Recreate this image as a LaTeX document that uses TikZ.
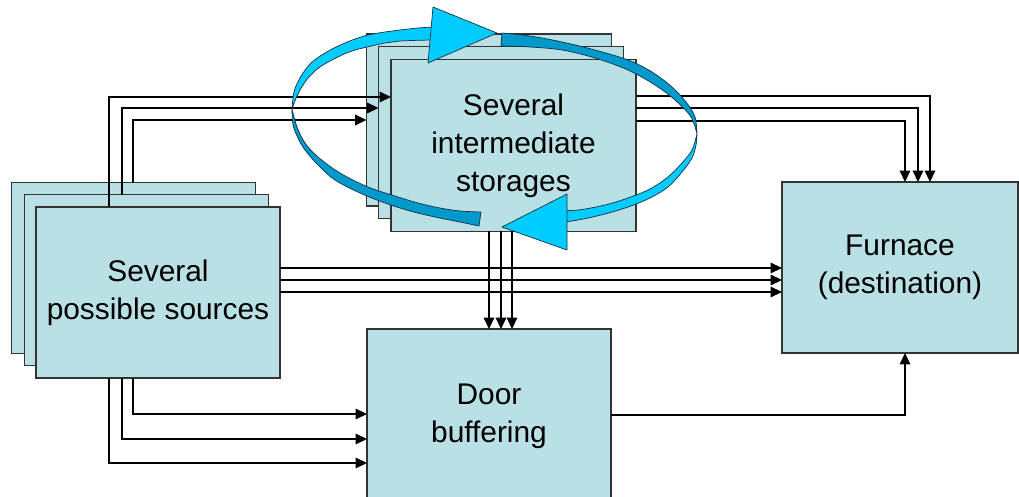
\documentclass[tikz,border=0pt]{standalone}
\usepackage{fontspec}
\setmainfont{Liberation Sans}
\usetikzlibrary{arrows.meta,calc}
\definecolor{boxfill}{RGB}{185,224,228}
\definecolor{boxline}{RGB}{51,51,51}
\definecolor{ribbonlight}{RGB}{0,204,255}
\definecolor{ribbondark}{RGB}{0,153,204}
\definecolor{ribbonedge}{RGB}{20,50,70}
\begin{document}
\begin{tikzpicture}[x=0.02cm,y=0.02cm,
  block/.style={draw=boxline, fill=boxfill, line width=0.7pt, inner sep=0pt, outer sep=0pt,
    align=center, font=\fontsize{17}{21.6}\selectfont},
  srcbox/.style={block, minimum width=4.88cm, minimum height=3.42cm},
  stobox/.style={block, minimum width=4.9cm, minimum height=3.44cm},
  wire/.style={draw=black, line width=0.75pt, -{Triangle[length=6.5pt,width=6pt]}},
  ribbon/.style={draw=ribbonedge, line width=0.4pt, line join=round},
  edge/.style={smooth, tension=0.55}]
\useasboundingbox (0,0) rectangle (1019,-497);

% sources stack
\node[srcbox] (srcB) at (133.5,-268) {};
\node[srcbox] (srcM) at (146.5,-280) {};
\node[srcbox] (srcF) at (158,-292.5) {Several\\possible sources};

% storages stack
\node[stobox] (stoB) at (489,-120) {};
\node[stobox] (stoM) at (501,-132.5) {};
\node[stobox] (stoF) at (513.5,-145.5) {Several\\intermediate\\storages};

% furnace and door
\node[block, minimum width=4.72cm, minimum height=3.42cm] (furn) at (900,-267.5) {Furnace\\(destination)};
\node[block, minimum width=4.88cm, minimum height=3.48cm] (door) at (489,-416) {Door\\buffering};

% sources -> storages
\draw[wire] (srcF.north -| 109,0) |- (stoF.west |- 0,-97);
\draw[wire] (srcM.north -| 122,0) |- (stoM.west |- 0,-108);
\draw[wire] (srcB.north -| 133,0) |- (stoB.west |- 0,-120);

% storages -> furnace
\draw[wire] (stoF.east |- 0,-96) -| (furn.north -| 930,0);
\draw[wire] (stoF.east |- 0,-108) -| (furn.north -| 918,0);
\draw[wire] (stoF.east |- 0,-121) -| (furn.north -| 905,0);

% sources -> furnace
\draw[wire] (srcF.east |- 0,-268) -- (furn.west |- 0,-268);
\draw[wire] (srcF.east |- 0,-280) -- (furn.west |- 0,-280);
\draw[wire] (srcF.east |- 0,-292) -- (furn.west |- 0,-292);

% storages -> door
\draw[wire] (stoF.south -| 489,0) -- (door.north -| 489,0);
\draw[wire] (stoF.south -| 501,0) -- (door.north -| 501,0);
\draw[wire] (stoF.south -| 512,0) -- (door.north -| 512,0);

% sources -> door
\draw[wire] (srcF.south -| 133,0) |- (door.west |- 0,-414);
\draw[wire] (srcF.south -| 122,0) |- (door.west |- 0,-439);
\draw[wire] (srcF.south -| 109,0) |- (door.west |- 0,-463);

% door -> furnace
\draw[wire] (door.east |- 0,-415) -| (furn.south -| 905,0);

% cyclic ribbon arrow (pixel coordinates, y downwards)
\begin{scope}[y=-0.02cm]
  % dark bottom-left
  \path[ribbon, fill=ribbondark]
    plot[edge] coordinates {(292,109) (293,125) (298,138) (305,150) (318,165) (335,180)
      (360,193) (385,203) (410,211) (435,217) (460,222) (479,226)}
    -- plot[edge] coordinates {(481,212) (460,211) (440,208) (418,203) (395,196) (368,187)
      (340,173) (318,157) (305,143) (297,127) (292,109)} -- cycle;
  % dark top-right
  \path[ribbon, fill=ribbondark]
    plot[edge] coordinates {(502,33) (530,36) (562,42) (595,50) (628,60) (652,72) (672,87)
      (686,102) (695,117) (697,134)}
    -- plot[edge] coordinates {(697,134) (691,117) (675,100) (655,85) (628,70) (595,58)
      (562,50) (530,47) (501,46)} -- cycle;
  % light top-left
  \path[ribbon, fill=ribbonlight]
    plot[edge] coordinates {(292,109) (294,92) (300,78) (310,64) (325,53) (345,43) (368,35)
      (400,30) (432,27) (455,27)}
    -- plot[edge] coordinates {(455,40) (432,40) (400,41) (385,43) (352,51) (330,61)
      (316,70) (305,82) (297,96) (292,109)} -- cycle;
  % light bottom-right
  \path[ribbon, fill=ribbonlight]
    plot[edge] coordinates {(697,134) (696,145) (692,158) (682,172) (668,187) (650,198)
      (628,207) (605,214) (578,220) (550,224)}
    -- plot[edge] coordinates {(550,211) (578,210) (605,205) (628,198) (650,189) (668,177)
      (682,163) (692,150) (697,134)} -- cycle;
  % arrowheads
  \path[ribbon, fill=ribbonlight] (433,7) -- (497,33) -- (428,63) -- cycle;
  \path[ribbon, fill=ribbonlight] (567,194) -- (502,227) -- (567,250) -- cycle;
\end{scope}
\end{tikzpicture}
\end{document}
